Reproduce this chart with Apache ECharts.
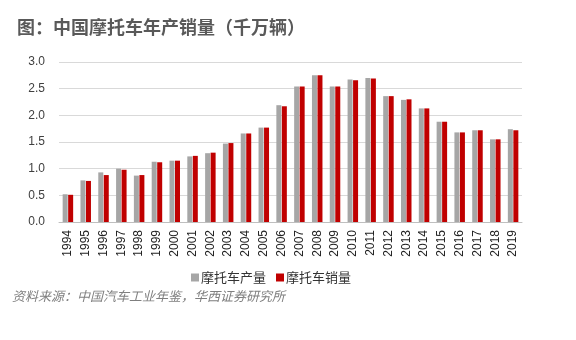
<!DOCTYPE html>
<html><head><meta charset="utf-8">
<script src="https://cdn.jsdelivr.net/npm/echarts@6/dist/echarts.min.js"></script>
<style>html,body{margin:0;padding:0;background:#fff}#c{width:576px;height:340px}</style>
</head><body><div id="c"></div>
<script>
const years = ['1994','1995','1996','1997','1998','1999','2000','2001','2002','2003','2004','2005','2006','2007','2008','2009','2010','2011','2012','2013','2014','2015','2016','2017','2018','2019'];
const production = [0.52,0.78,0.93,1.00,0.87,1.13,1.15,1.23,1.29,1.47,1.66,1.77,2.19,2.54,2.75,2.54,2.67,2.70,2.36,2.29,2.13,1.88,1.68,1.72,1.55,1.74];
const sales = [0.51,0.77,0.88,0.98,0.88,1.12,1.15,1.24,1.30,1.48,1.66,1.77,2.17,2.54,2.75,2.54,2.66,2.69,2.36,2.30,2.13,1.88,1.68,1.72,1.55,1.72];
const yTicks = [0,0.5,1,1.5,2,2.5,3];
const font = '"Noto Sans CJK SC","Liberation Sans",sans-serif';
const chart = echarts.init(document.getElementById('c'), null, {renderer:'canvas'});
chart.setOption({
  animation:false,
  textStyle:{fontFamily:font},
  graphic:[
    {type:'text',left:17,top:18,style:{text:'图：中国摩托车年产销量（千万辆）',font:'bold 18px '+font,fill:'#595959'}},
    {type:'text',left:12,top:290,style:{text:'资料来源：中国汽车工业年鉴，华西证券研究所',font:'italic 13px '+font,fill:'#7f7f7f'}}
  ],
  legend:{left:186,top:266,itemWidth:8,itemHeight:8,itemGap:10,icon:'rect',
    textStyle:{fontSize:13,color:'#333',padding:[0,0,0,-3]},
    data:['摩托车产量','摩托车销量']},
  grid:{left:59,right:54,top:62,bottom:118},
  xAxis:{type:'category',data:years,
    axisLine:{lineStyle:{color:'#bfbfbf'}},axisTick:{show:false},
    axisLabel:{rotate:90,fontSize:12,color:'#222',margin:8,fontFamily:'"Liberation Sans",sans-serif',interval:0}},
  yAxis:{type:'value',min:0,max:3,interval:0.5,
    axisLabel:{fontSize:12,color:'#404040',margin:14,fontFamily:'"Liberation Sans",sans-serif',
      formatter:v=>yTicks.includes(v)?v.toFixed(1):''},
    splitLine:{lineStyle:{color:'#d9d9d9'}},axisLine:{show:false},axisTick:{show:false}},
  series:[
    {name:'摩托车产量',type:'bar',data:production,barWidth:5,barGap:'10%',itemStyle:{color:'#a6a6a6'}},
    {name:'摩托车销量',type:'bar',data:sales,barWidth:5,itemStyle:{color:'#c00000'}}
  ]
});
</script></body></html>
